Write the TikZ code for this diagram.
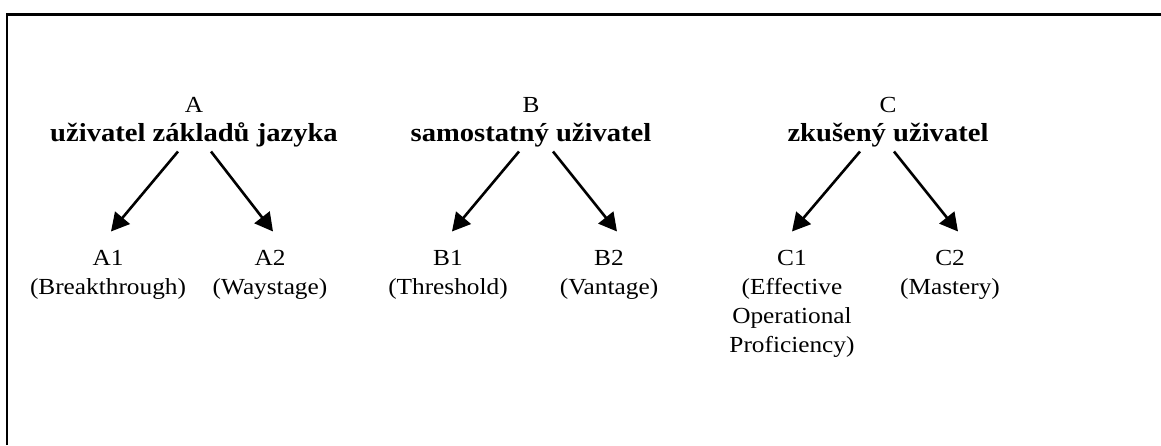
\documentclass[tikz,border=0pt]{standalone}
\usepackage{fontspec}
\setmainfont[FakeStretch=1.1]{Liberation Serif}
\usetikzlibrary{arrows.meta, positioning}

\begin{document}
\begin{tikzpicture}[
        x=0.5pt,
        y=0.5pt,
        levelhead/.style={
            anchor=south,
            inner sep=0pt,
            align=center,
            font=\fontsize{11.5}{14.5}\selectfont
        },
        sublevel/.style={
            inner sep=0pt,
            align=center,
            font=\fontsize{11.5}{14.5}\selectfont
        },
        branch/.style={
            -{Triangle[length=9pt, width=9.5pt]},
            line width=1.3pt
        },
        frameline/.style={
            line width=1.15pt
        }
    ]

        \useasboundingbox (0,0) rectangle (1161,445);

        % ---------------------------------------------------------------------
        % Open frame (top and left edge only)
        % ---------------------------------------------------------------------

        \draw[frameline]
            (7,0) -- (7,430.5) -- (1161,430.5);


        % ---------------------------------------------------------------------
        % Top level: A, B, C
        % ---------------------------------------------------------------------

        \node[levelhead] (heada) at (194,297.5)
            {A\\{\fontsize{13}{14.5}\selectfont\bfseries uživatel základů jazyka}};

        \node[levelhead] (headb) at (531,297.5)
            {B\\{\fontsize{13}{14.5}\selectfont\bfseries samostatný uživatel}};

        \node[levelhead] (headc) at (888,297.5)
            {C\\{\fontsize{13}{14.5}\selectfont\bfseries zkušený uživatel}};


        % ---------------------------------------------------------------------
        % Second level: A1 ... C2
        % ---------------------------------------------------------------------

        \node[
            sublevel,
            below=51pt of heada,
            xshift=-43pt
        ] (a1) {A1\\(Breakthrough)};

        \node[
            sublevel,
            below=51pt of heada,
            xshift=38pt
        ] (a2) {A2\\(Waystage)};

        \node[
            sublevel,
            below=51pt of headb,
            xshift=-41.5pt
        ] (b1) {B1\\(Threshold)};

        \node[
            sublevel,
            below=51pt of headb,
            xshift=39pt
        ] (b2) {B2\\(Vantage)};

        \node[
            sublevel,
            below=51pt of headc,
            xshift=-48pt
        ] (c1) {C1\\(Effective\\Operational\\Proficiency)};

        \node[
            sublevel,
            below=51pt of headc,
            xshift=31pt
        ] (c2) {C2\\(Mastery)};


        % ---------------------------------------------------------------------
        % Arrows
        % ---------------------------------------------------------------------

        \draw[branch]
            ([xshift=-8pt,yshift=-2pt]heada.south) -- ([xshift=1.5pt,yshift=9pt]a1.north);

        \draw[branch]
            ([xshift=8.5pt,yshift=-2pt]heada.south) -- ([xshift=1.5pt,yshift=9pt]a2.north);

        \draw[branch]
            ([xshift=-6pt,yshift=-2pt]headb.south) -- ([xshift=2pt,yshift=9pt]b1.north);

        \draw[branch]
            ([xshift=11pt,yshift=-2pt]headb.south) -- ([xshift=4pt,yshift=9pt]b2.north);

        \draw[branch]
            ([xshift=-14pt,yshift=-2pt]headc.south) -- ([yshift=9pt]c1.north);

        \draw[branch]
            ([xshift=3pt,yshift=-2pt]headc.south) -- ([xshift=4pt,yshift=9pt]c2.north);

    \end{tikzpicture}
\end{document}
